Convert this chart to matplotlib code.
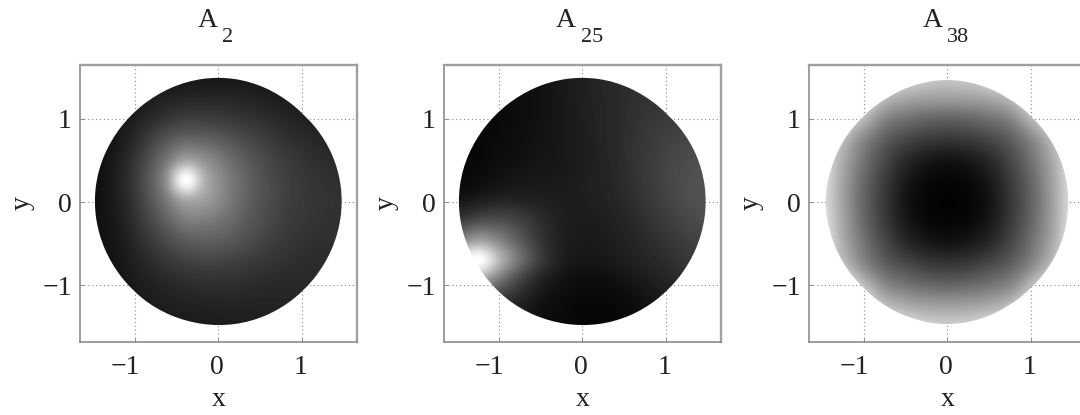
# -*- coding: utf-8 -*-
"""Three grey-scale maps on a disc: A2, A25, A38."""

import matplotlib
matplotlib.use("Agg")
import matplotlib.pyplot as plt
import numpy as np
from matplotlib.path import Path
from matplotlib.transforms import ScaledTranslation

plt.rcParams.update(
    {
        "font.family": ["Liberation Serif", "DejaVu Serif"],
        "axes.unicode_minus": True,
    }
)

W, H = 1080, 415
FRAME = "#8c8c8c"
TEXT = "#222222"

title_main = ["A", "A", "A"]
title_sub = ["2", "25", "38"]
tick_values = [-1, 0, 1]
boundary_angles = np.arange(0, 360, 15)

# grey levels (0-255), rows go from bottom to top
a2_x0, a2_y0, a2_step = -1.4, -1.48, 0.25
a2_grey = [
    [18, 20, 22, 24, 26, 27, 28, 30, 31, 33, 35, 37, 39],
    [18, 20, 24, 30, 33, 35, 36, 36, 36, 37, 38, 40, 42],
    [16, 22, 30, 38, 44, 47, 47, 45, 42, 41, 41, 43, 45],
    [16, 24, 38, 52, 62, 66, 64, 58, 52, 47, 44, 45, 47],
    [17, 28, 48, 70, 88, 92, 88, 76, 63, 54, 48, 47, 48],
    [18, 32, 60, 92, 122, 122, 108, 88, 72, 59, 52, 49, 48],
    [18, 36, 70, 115, 165, 155, 125, 96, 76, 62, 54, 50, 48],
    [18, 38, 76, 135, 255, 172, 128, 98, 76, 62, 53, 48, 46],
    [17, 35, 68, 112, 158, 140, 112, 88, 70, 57, 48, 43, 41],
    [15, 28, 52, 80, 98, 95, 84, 70, 58, 47, 40, 35, 33],
    [13, 21, 36, 50, 60, 60, 56, 50, 43, 36, 31, 27, 25],
    [11, 15, 24, 32, 36, 37, 37, 34, 30, 26, 23, 20, 18],
    [9, 11, 15, 19, 21, 22, 22, 21, 19, 17, 15, 14, 13],
]
a2_radius = [1.49, 1.49, 1.485, 1.475, 1.485, 1.50, 1.505, 1.50, 1.49, 1.485, 1.485, 1.49,
             1.49, 1.485, 1.48, 1.48, 1.485, 1.485, 1.49, 1.49, 1.485, 1.48, 1.48, 1.485]

a25_x0, a25_y0, a25_step = -1.47, -1.45, 0.25
a25_grey = [
    [40, 36, 30, 22, 14, 9, 6, 6, 9, 14, 20, 28, 35],
    [70, 65, 50, 34, 18, 11, 8, 8, 12, 20, 28, 36, 42],
    [150, 160, 110, 62, 32, 18, 13, 14, 20, 28, 37, 46, 52],
    [235, 255, 175, 105, 55, 28, 22, 24, 30, 38, 46, 56, 62],
    [130, 155, 125, 85, 50, 30, 26, 28, 35, 44, 54, 64, 70],
    [55, 70, 72, 60, 42, 30, 28, 31, 39, 50, 62, 72, 78],
    [18, 26, 32, 32, 30, 28, 30, 35, 44, 56, 68, 78, 82],
    [8, 12, 18, 22, 24, 26, 30, 36, 46, 58, 70, 78, 82],
    [6, 8, 13, 17, 21, 24, 29, 37, 47, 58, 68, 75, 78],
    [6, 8, 11, 15, 19, 24, 30, 38, 47, 56, 64, 69, 72],
    [6, 7, 10, 14, 18, 24, 31, 38, 46, 53, 58, 62, 64],
    [6, 7, 10, 14, 18, 25, 32, 39, 45, 50, 54, 56, 58],
    [6, 7, 10, 14, 18, 25, 33, 40, 45, 49, 52, 54, 55],
]
a25_radius = [1.49, 1.49, 1.485, 1.475, 1.485, 1.50, 1.505, 1.50, 1.49, 1.485, 1.485, 1.49,
              1.49, 1.485, 1.475, 1.48, 1.485, 1.485, 1.49, 1.49, 1.485, 1.48, 1.48, 1.485]

a38_x0, a38_y0, a38_step = -1.5, -1.5, 0.25
a38_grey = [
    [250, 250, 250, 245, 226, 210, 205, 210, 226, 245, 250, 250, 250],
    [250, 250, 238, 192, 172, 162, 160, 162, 172, 192, 238, 250, 250],
    [250, 238, 188, 138, 117, 106, 100, 106, 117, 136, 186, 236, 250],
    [245, 192, 136, 96, 74, 60, 55, 60, 74, 96, 135, 190, 245],
    [235, 172, 116, 73, 42, 26, 20, 26, 42, 72, 115, 170, 235],
    [228, 164, 105, 60, 26, 10, 6, 10, 26, 60, 104, 162, 228],
    [222, 160, 100, 55, 20, 6, 4, 6, 20, 55, 100, 160, 225],
    [224, 162, 104, 60, 26, 10, 6, 10, 26, 60, 104, 162, 228],
    [232, 170, 115, 72, 42, 26, 20, 26, 42, 72, 115, 170, 235],
    [245, 190, 135, 95, 72, 60, 55, 60, 72, 95, 135, 190, 245],
    [250, 235, 185, 135, 115, 104, 100, 104, 115, 135, 185, 235, 250],
    [250, 250, 235, 190, 170, 162, 160, 162, 170, 190, 235, 250, 250],
    [250, 250, 250, 245, 222, 205, 200, 205, 222, 245, 250, 250, 250],
]
a38_radius = [1.46, 1.46, 1.455, 1.45, 1.455, 1.47, 1.48, 1.47, 1.455, 1.45, 1.455, 1.46,
              1.47, 1.46, 1.455, 1.45, 1.46, 1.47, 1.48, 1.47, 1.455, 1.45, 1.455, 1.46]

panels = [
    (a2_x0, a2_y0, a2_step, a2_grey, a2_radius),
    (a25_x0, a25_y0, a25_step, a25_grey, a25_radius),
    (a38_x0, a38_y0, a38_step, a38_grey, a38_radius),
]

# pixel geometry; the third frame runs off the canvas
FRAME_LEFT = [80, 444, 809]
FRAME_TOP = 65
FRAME_SIZE = 277
TITLE_LEFT = [198, 556, 923]
SUB_LEFT = [222, 581, 947]
TITLE_BASE = 27
SUB_BASE = 42
# the x tick labels sit a little left of their ticks, the minus sign most of all
X_LABEL_SHIFT_PX = [-9, -1.5, -1]


def disc_path(radius):
    """Smooth closed outline, with the read radii as the curve's control points."""
    angle = np.radians(boundary_angles)
    pts = np.column_stack([radius * np.cos(angle), radius * np.sin(angle)])
    mids = (pts + np.roll(pts, -1, axis=0)) / 2
    verts = [mids[-1]]
    codes = [Path.MOVETO]
    for p, m in zip(pts, mids):
        verts += [p, m]
        codes += [Path.CURVE3, Path.CURVE3]
    return Path(verts, codes, closed=False)


fig = plt.figure(figsize=(W / 100, H / 100), dpi=100, facecolor="white")

for i, (x0, y0, step, grey, radius) in enumerate(panels):
    ax = fig.add_axes(
        [
            FRAME_LEFT[i] / W,
            1 - (FRAME_TOP + FRAME_SIZE) / H,
            FRAME_SIZE / W,
            FRAME_SIZE / H,
        ]
    )
    grey = np.array(grey)
    rows, cols = grey.shape
    im = ax.imshow(
        grey,
        origin="lower",
        extent=[
            x0 - step / 2,
            x0 + (cols - 0.5) * step,
            y0 - step / 2,
            y0 + (rows - 0.5) * step,
        ],
        cmap="gray",
        vmin=0,
        vmax=255,
        interpolation="catrom",
        aspect="auto",
        zorder=3,
    )
    im.set_clip_path(disc_path(np.array(radius)), transform=ax.transData)

    ax.set_xlim(-1.655, 1.66)
    ax.set_ylim(-1.68, 1.645)
    ax.set_xticks(tick_values)
    ax.set_yticks(tick_values)
    ax.grid(True, linestyle=(0, (1, 2.5)), linewidth=0.8, color="#888888")
    ax.set_axisbelow(True)
    ax.tick_params(direction="in", length=3, width=0.7, color=FRAME, labelsize=20, labelcolor=TEXT)
    ax.tick_params(axis="x", pad=9)
    ax.tick_params(axis="y", pad=6)
    for label, shift in zip(ax.get_xticklabels(), X_LABEL_SHIFT_PX):
        label.set_transform(label.get_transform() + ScaledTranslation(shift / 100, 0, fig.dpi_scale_trans))
    for side, spine in ax.spines.items():
        spine.set_color("#a0a0a0" if side in ("top", "right") else FRAME)
        spine.set_linewidth(1.7 if side in ("top", "right") else 1.2)

    ax.set_xlabel("x", fontsize=20, color=TEXT)
    ax.set_ylabel("y", fontsize=20, color=TEXT)
    ax.xaxis.set_label_coords(0.5, -0.162)
    ax.yaxis.set_label_coords(-0.165, 0.5)

    fig.text(TITLE_LEFT[i] / W, 1 - TITLE_BASE / H, title_main[i], fontsize=20, color=TEXT, va="baseline")
    fig.text(SUB_LEFT[i] / W, 1 - SUB_BASE / H, title_sub[i], fontsize=16, color=TEXT, va="baseline")

fig.savefig("out.png", dpi=100, facecolor="white")
plt.close(fig)
